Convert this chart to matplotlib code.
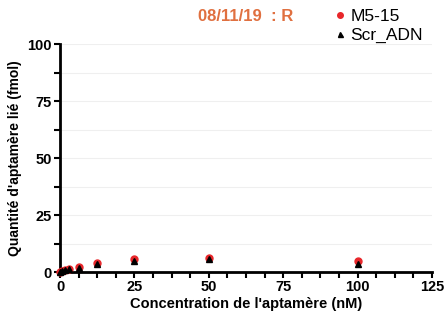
import matplotlib
matplotlib.use("Agg")
import matplotlib.pyplot as plt
from matplotlib.ticker import MultipleLocator

plt.rcParams['font.family'] = ['Liberation Sans', 'DejaVu Sans']

conc = [0, 0.78, 1.56, 3.125, 6.25, 12.5, 25, 50, 100]
m5_15 = [0.0, 0.6, 1.0, 1.4, 2.4, 3.8, 5.6, 6.3, 5.0]
scr_adn = [0.0, 0.5, 0.8, 1.2, 2.0, 3.5, 4.8, 5.8, 3.4]

fig = plt.figure(figsize=(4.45, 3.22), dpi=100)
ax = fig.add_axes([0.135, 0.155, 0.836, 0.708])

ax.set_xlim(0, 125)
ax.set_ylim(0, 100)
ax.xaxis.set_major_locator(MultipleLocator(25))
ax.xaxis.set_minor_locator(MultipleLocator(6.25))
ax.yaxis.set_major_locator(MultipleLocator(25))
ax.yaxis.set_minor_locator(MultipleLocator(12.5))

ax.grid(True, axis='y', which='both', color='#efefef', linewidth=0.8)
ax.set_axisbelow(True)

ax.plot(conc, m5_15, 'o', color='#e8262a', markersize=5, label='M5-15', clip_on=False, zorder=3)
ax.plot(conc, scr_adn, '^', color='black', markersize=4.5, label='Scr_ADN', clip_on=False, zorder=4)

for s in ['top', 'right']:
    ax.spines[s].set_visible(False)
for s in ['left', 'bottom']:
    ax.spines[s].set_linewidth(2)

ax.tick_params(which='major', direction='out', length=4, width=1.5, labelsize=10.5, pad=2)
ax.tick_params(which='minor', direction='out', length=4, width=1.5)
for lbl in ax.get_xticklabels() + ax.get_yticklabels():
    lbl.set_fontweight('bold')

ax.set_xlabel("Concentration de l'aptamère (nM)", fontsize=10.5, fontweight='bold', labelpad=2)
ax.set_ylabel("Quantité d'aptamère lié (fmol)", fontsize=10, fontweight='bold', labelpad=4)

fig.text(0.553, 0.95, "08/11/19  : R", color='#e07040', fontsize=12, fontweight='bold', ha='center', va='center')

ax.legend(loc='lower left', bbox_to_anchor=(0.71, 0.975), frameon=False, fontsize=12.5,
          handletextpad=0.1, labelspacing=0.2, handlelength=1.0, borderaxespad=0,
          markerscale=0.8)

fig.savefig('out.png', dpi=100)
